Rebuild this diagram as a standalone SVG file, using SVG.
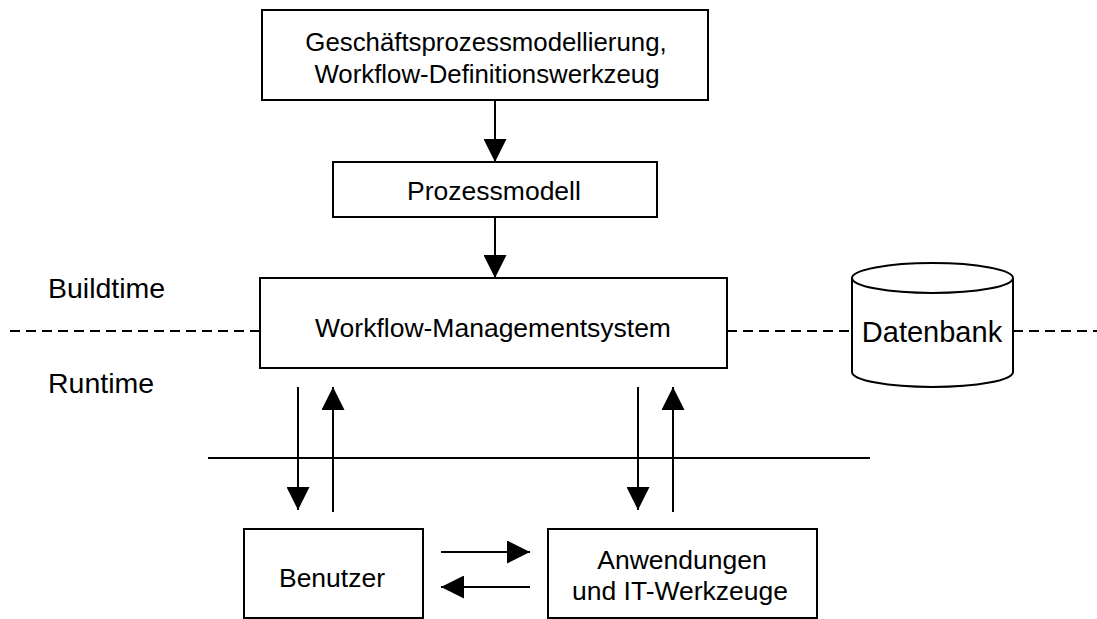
<svg xmlns="http://www.w3.org/2000/svg" width="1097" height="619" viewBox="0 0 1097 619">
  <style>
    .box { fill: #fff; stroke: #000; stroke-width: 2; }
    .line { fill: none; stroke: #000; stroke-width: 2; }
    .dash { fill: none; stroke: #000; stroke-width: 2; stroke-dasharray: 10 6; }
    .t { font-family: "Liberation Sans", Arial, sans-serif; font-size: 26.5px; fill: #000; text-anchor: middle; }
    .lbl { font-family: "Liberation Sans", Arial, sans-serif; font-size: 28.5px; fill: #000; }
  </style>
  <defs>
    <marker id="arrow" viewBox="0 0 23 23" refX="23" refY="11.5" markerWidth="23" markerHeight="23" markerUnits="userSpaceOnUse" orient="auto">
      <path d="M0,0 L23,11.5 L0,23 Z" fill="#000"/>
    </marker>
  </defs>

  <!-- layer labels and separators -->
  <g id="layers">
    <text class="lbl" x="48" y="298">Buildtime</text>
    <text class="lbl" x="48" y="393">Runtime</text>
    <path class="dash" d="M10,331 H260"/>
    <path class="dash" d="M727,331 H852"/>
    <path class="dash" d="M1013,331 H1097"/>
    <path class="line" d="M208,458 H870"/>
  </g>

  <!-- connectors -->
  <g id="connectors">
    <path class="line" d="M495,100 V162" marker-end="url(#arrow)"/>
    <path class="line" d="M495,217 V278" marker-end="url(#arrow)"/>
    <path class="line" d="M298,387 V510" marker-end="url(#arrow)"/>
    <path class="line" d="M333,512 V387" marker-end="url(#arrow)"/>
    <path class="line" d="M638,387 V510" marker-end="url(#arrow)"/>
    <path class="line" d="M673,512 V387" marker-end="url(#arrow)"/>
    <path class="line" d="M441,552 H530" marker-end="url(#arrow)"/>
    <path class="line" d="M530,587 H441" marker-end="url(#arrow)"/>
  </g>

  <g id="node-modellierung">
    <rect class="box" x="262" y="10" width="446" height="90"/>
    <text class="t" x="486" y="51" style="font-size:25.8px">Geschäftsprozessmodellierung,</text>
    <text class="t" x="487" y="83" style="font-size:25.8px">Workflow-Definitionswerkzeug</text>
  </g>

  <g id="node-prozessmodell">
    <rect class="box" x="333" y="162" width="324" height="55"/>
    <text class="t" x="494" y="200">Prozessmodell</text>
  </g>

  <g id="node-wfms">
    <rect class="box" x="260" y="278" width="467" height="90"/>
    <text class="t" x="493" y="337">Workflow-Managementsystem</text>
  </g>

  <g id="node-datenbank">
    <path class="box" d="M852,278 A80.5,15 0 0 1 1013,278 V372 A80.5,15 0 0 1 852,372 Z"/>
    <path class="line" d="M852,278 A80.5,15 0 0 0 1013,278"/>
    <text class="t" x="932" y="342" style="font-size:29px">Datenbank</text>
  </g>

  <g id="node-benutzer">
    <rect class="box" x="244" y="529" width="179" height="89"/>
    <text class="t" x="332" y="587">Benutzer</text>
  </g>

  <g id="node-anwendungen">
    <rect class="box" x="548" y="529" width="269" height="89"/>
    <text class="t" x="682" y="569">Anwendungen</text>
    <text class="t" x="680" y="600">und IT-Werkzeuge</text>
  </g>
</svg>
